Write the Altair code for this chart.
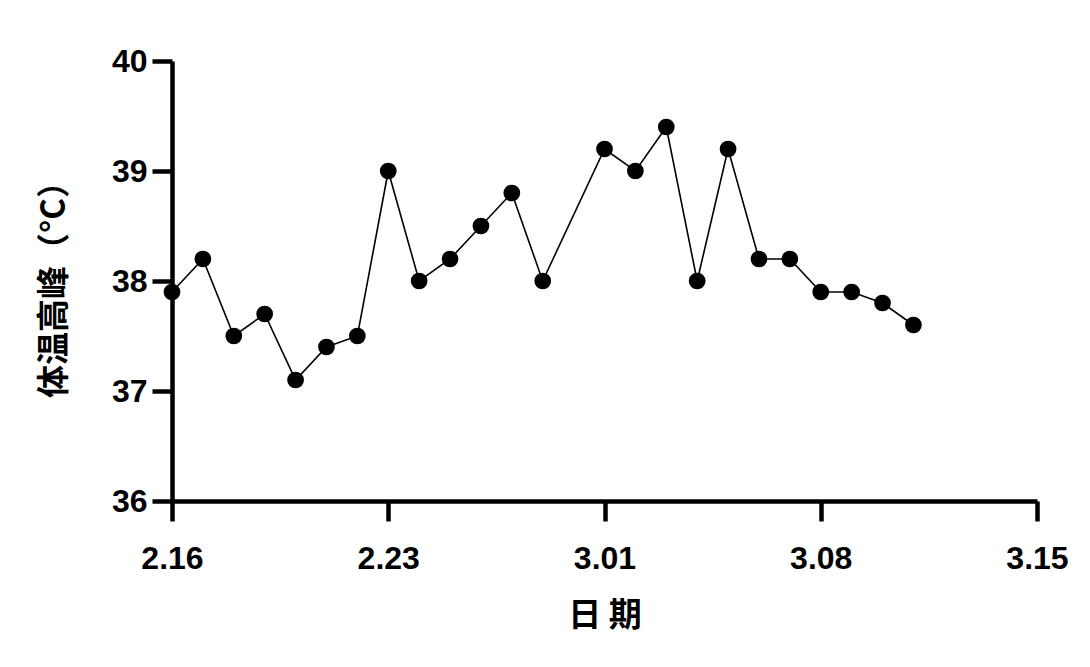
import altair as alt
import pandas as pd

days = [0, 1, 2, 3, 4, 5, 6, 7, 8, 9, 10, 11, 12, 14, 15, 16, 17, 18, 19, 20, 21, 22, 23, 24]
temps = [37.9, 38.2, 37.5, 37.7, 37.1, 37.4, 37.5, 39.0, 38.0, 38.2, 38.5, 38.8, 38.0,
         39.2, 39.0, 39.4, 38.0, 39.2, 38.2, 38.2, 37.9, 37.9, 37.8, 37.6]
tick_days = [0, 7, 14, 21, 28]
tick_labels = ["2.16", "2.23", "3.01", "3.08", "3.15"]
y_ticks = [36, 37, 38, 39, 40]

df = pd.DataFrame({"day": days, "temp": temps})

label_expr = " : ".join(
    [f"datum.value == {d} ? '{l}'" for d, l in zip(tick_days, tick_labels)]
) + " : ''"

num_font = "Liberation Sans"
cjk_font = "Noto Sans CJK SC"

x = alt.X(
    "day:Q",
    scale=alt.Scale(domain=[0, 28], nice=False, zero=False),
    axis=alt.Axis(
        values=tick_days, labelExpr=label_expr, title="日 期",
        grid=False, domainColor="black", domainWidth=4.5, tickColor="black",
        tickWidth=4.5, tickSize=20, labelFont=num_font, labelFontSize=32,
        labelFontWeight="bold", labelColor="black", labelPadding=22,
        titleFont=cjk_font, titleFontSize=33, titleFontWeight="bold",
        titleColor="black", titlePadding=25, labelFlush=False,
    ),
)
y = alt.Y(
    "temp:Q",
    scale=alt.Scale(domain=[36, 40], nice=False, zero=False),
    axis=alt.Axis(
        values=y_ticks, format="d", title="体温高峰（°C）",
        grid=False, domainColor="black", domainWidth=4.5, tickColor="black",
        tickWidth=4.5, tickSize=20, labelFont=num_font, labelFontSize=32,
        labelFontWeight="bold", labelColor="black", labelPadding=5,
        titleFont=cjk_font, titleFontSize=33, titleFontWeight="bold",
        titleColor="black", titlePadding=40, labelFlush=False,
    ),
)

line = alt.Chart(df).mark_line(color="black", strokeWidth=1.6).encode(x=x, y=y)
pts = alt.Chart(df).mark_circle(color="black", opacity=1, size=280).encode(x=x, y=y)

chart = (line + pts).properties(
    width=865, height=440,
    background="white",
    padding={"left": 164, "top": 53, "right": 40, "bottom": 150},
    autosize=alt.AutoSizeParams(type="none"),
).configure_view(stroke="transparent", strokeWidth=0)

chart.save("out.html", embed_options={"renderer": "svg", "actions": False})
